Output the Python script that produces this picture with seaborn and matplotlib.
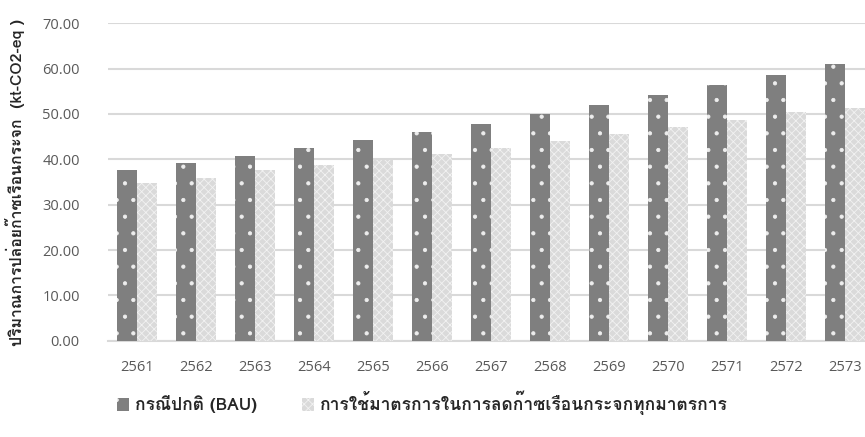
import matplotlib
matplotlib.use("Agg")
import matplotlib.pyplot as plt
from matplotlib import font_manager
from matplotlib.patches import Patch
import seaborn as sns
import pandas as pd

years = ["2561", "2562", "2563", "2564", "2565", "2566", "2567",
         "2568", "2569", "2570", "2571", "2572", "2573"]
bau = [37.6, 39.1, 40.7, 42.4, 44.2, 46.0, 47.9, 49.9, 51.9, 54.1, 56.3, 58.7, 61.1]
mitigation = [34.8, 35.8, 37.6, 38.7, 39.9, 41.1, 42.5, 44.0, 45.5, 47.1, 48.7, 50.4, 51.3]

series_names = ["กรณีปกติ (BAU)", "การใช้มาตรการในการลดก๊าซเรือนกระจกทุกมาตรการ"]
y_label = "ปริมาณการปล่อยก๊าซเรือนกระจก  (kt-CO2-eq )"
y_ticks = [0, 10, 20, 30, 40, 50, 60, 70]


def find_thai_family():
    """Pick an installed font covering Thai script, preferring one with a bold face."""
    try:
        from fontTools.ttLib import TTFont
    except Exception:
        return None
    faces = {}
    for entry in font_manager.fontManager.ttflist:
        try:
            font = TTFont(entry.fname, fontNumber=0, lazy=True)
            cmap = font.getBestCmap() or {}
            if 0x0E01 in cmap and 0x0E35 in cmap and 0x0E4C in cmap:
                w = entry.weight if isinstance(entry.weight, int) else 400
                faces.setdefault(entry.name, set()).add(w)
        except Exception:
            continue
    if not faces:
        return None
    preferred = ["Tahoma", "Noto Sans Thai Looped", "Leelawadee UI", "Loma",
                 "Garuda", "Noto Sans Thai", "Noto Sans Thai UI", "Sarabun"]
    with_bold = [n for n, ws in faces.items() if max(ws) >= 600]
    for pool in (with_bold, list(faces)):
        for p in preferred:
            if p in pool:
                return p
        if pool:
            return sorted(pool)[0]
    return None


sns.set_theme(style="white")
thai_family = find_thai_family()
family = ([thai_family] if thai_family else []) + ["DejaVu Sans"]
plt.rcParams["font.family"] = family
plt.rcParams["hatch.linewidth"] = 0.6

df = pd.DataFrame({
    "year": years * 2,
    "value": bau + mitigation,
    "scenario": [series_names[0]] * len(years) + [series_names[1]] * len(years),
})

dark = "#7f7f7f"
light = "#dadada"
lattice = "#f2f2f2"

fig = plt.figure(figsize=(8.65, 4.37), dpi=100)
ax = fig.add_axes([107.5 / 865, 96.3 / 437, (874.5 - 107.5) / 865, (340.7 - 23.3) / 437])

sns.barplot(data=df, x="year", y="value", hue="scenario", order=years,
            hue_order=series_names, palette=[dark, light], width=0.68,
            gap=0, saturation=1, ax=ax, legend=False, zorder=3)

for bar in ax.containers[0]:
    bar.set_hatch(".")
    bar.set_edgecolor("#eeeeee")
    bar.set_linewidth(0)
for bar in ax.containers[1]:
    bar.set_hatch("xxxx")
    bar.set_edgecolor(lattice)
    bar.set_linewidth(0)

ax.set_ylim(0, 70)
ax.set_xlim(-0.5, len(years) - 0.5)
ax.set_yticks(y_ticks)
ax.set_yticklabels([f"{v:.2f}" for v in y_ticks])
ax.yaxis.grid(True, color="#d9d9d9", linewidth=1.5, zorder=0)
ax.set_axisbelow(True)
for side in ["top", "right", "left"]:
    ax.spines[side].set_visible(False)
ax.spines["bottom"].set_color("#d9d9d9")
ax.spines["bottom"].set_linewidth(1.5)
ax.tick_params(axis="both", length=0, labelsize=10.5, labelcolor="#595959")
ax.tick_params(axis="y", pad=20)
ax.tick_params(axis="x", pad=14)
for lbl in ax.get_xticklabels() + ax.get_yticklabels():
    lbl.set_family(["Open Sans", "DejaVu Sans"])
ax.set_xlabel("")
ax.set_ylabel("")

fig.text(15 / 865, 1 - 183 / 437, y_label, rotation=90, ha="center", va="center",
         fontsize=11.4, fontweight="bold", color="#262626")

handles = [
    Patch(facecolor=dark, edgecolor="#eeeeee", hatch=".", linewidth=0),
    Patch(facecolor=light, edgecolor=lattice, hatch="xxxx", linewidth=0),
]
fig.legend(handles, series_names, loc="center left",
           bbox_to_anchor=(101 / 865, 1 - 403 / 437), ncol=2, frameon=False,
           handlelength=0.7, handleheight=0.8, handletextpad=0.35,
           columnspacing=2.6, prop={"size": 12.5, "weight": "bold"},
           labelcolor="#262626")

fig.savefig("out.png", dpi=100)
